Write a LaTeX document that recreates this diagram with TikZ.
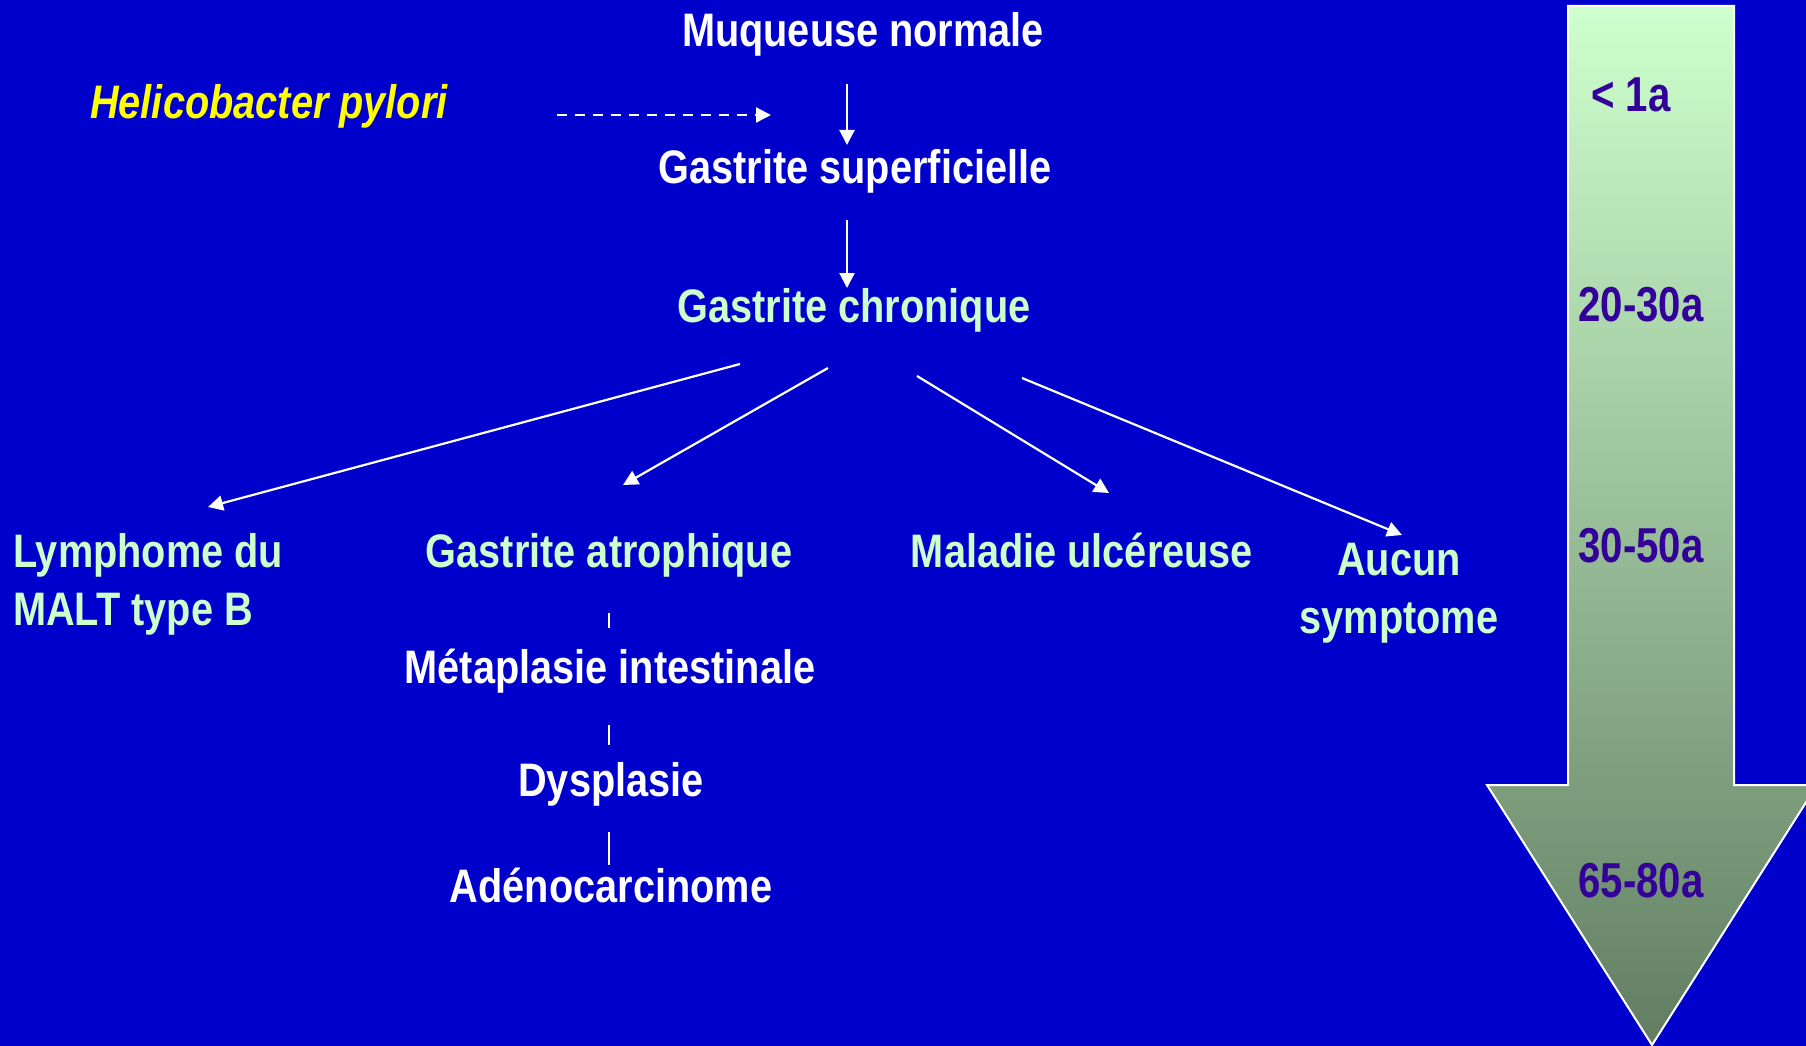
\documentclass[tikz,border=0pt]{standalone}
\usepackage{fontspec}
\setmainfont{Liberation Sans}[FakeStretch=0.845]
\newfontfamily\agefont{Liberation Sans}[FakeStretch=0.82]
\usetikzlibrary{arrows.meta}
\definecolor{bg}{RGB}{0,0,204}
\definecolor{lg}{RGB}{204,255,204}
\definecolor{agecol}{RGB}{51,0,153}
\definecolor{hpcol}{RGB}{255,255,0}
\definecolor{arrtop}{RGB}{206,255,206}
\definecolor{arrbot}{RGB}{98,125,98}
\begin{document}
\begin{tikzpicture}[x=1pt,y=-1pt,
  lbl/.style={inner sep=0pt, anchor=base, font=\fontsize{47}{58}\selectfont\bfseries},
  wtxt/.style={lbl, text=white},
  gtxt/.style={lbl, text=lg},
  agetxt/.style={inner sep=0pt, anchor=base, text=agecol, font=\agefont\fontsize{49}{58}\selectfont\bfseries},
  conn/.style={draw=white, line width=2.2pt, -{Triangle[length=15pt,width=15pt]}},
  dconn/.style={conn, dash pattern=on 10pt off 8pt},
  tick/.style={draw=white, line width=2pt}
]
\fill[bg] (0,0) rectangle (1806,1046);
\useasboundingbox (0,0) rectangle (1806,1046);

% big time arrow
\begin{scope}
\clip (0,0) rectangle (1806,1046);
\path[top color=arrtop, bottom color=arrbot, draw=white, line width=2pt, line join=miter]
  (1568,6) -- (1734,6) -- (1734,785) -- (1817,785) -- (1652,1045) -- (1487,785) -- (1568,785) -- cycle;
\end{scope}

\node[agetxt] (a1) at (1631,112) {< 1a};
\node[agetxt] (a2) at (1641,321) {20-30a};
\node[agetxt] (a3) at (1641,562) {30-50a};
\node[agetxt] (a4) at (1641,897) {65-80a};

% texts
\node[wtxt] (muq) at (863,47) {Muqueuse normale};
\node[lbl, anchor=base west, text=hpcol, font=\fontsize{47}{58}\selectfont\bfseries\itshape] (hp) at (90,119) {Helicobacter pylori};
\node[wtxt] (gs) at (855,183) {Gastrite superficielle};
\node[gtxt] (gc) at (854,322) {Gastrite chronique};
\node[gtxt, anchor=base west, align=left] (lym) at (13,625) {Lymphome du\\MALT type B};
\node[gtxt] (atro) at (609,567) {Gastrite atrophique};
\node[gtxt] (mal) at (1082,567) {Maladie ulcéreuse};
\node[gtxt, align=center] (auc) at (1399,633) {Aucun\\symptome};
\node[wtxt] (meta) at (610,683) {Métaplasie intestinale};
\node[wtxt] (dys) at (611,796) {Dysplasie};
\node[wtxt] (adeno) at (611,902) {Adénocarcinome};

% connector end points
\coordinate (muq-o) at (847,84);
\coordinate (gs-i) at (847,145);
\coordinate (gs-o) at (847,220);
\coordinate (gc-i) at (847,288);
\coordinate (hp-o) at (557,115);
\coordinate (hp-i) at (771,115);
\coordinate (gc-o1) at (740,364);
\coordinate (lym-i) at (208,507);
\coordinate (gc-o2) at (828,368);
\coordinate (atro-i) at (623,485);
\coordinate (gc-o3) at (917,376);
\coordinate (mal-i) at (1109,493);
\coordinate (gc-o4) at (1022,378);
\coordinate (auc-i) at (1402,535);
\coordinate (t1a) at (609,613); \coordinate (t1b) at (609,628);
\coordinate (t2a) at (609,725); \coordinate (t2b) at (609,745);
\coordinate (t3a) at (609,832); \coordinate (t3b) at (609,865);

\draw[conn] (muq-o) -- (gs-i);
\draw[conn] (gs-o) -- (gc-i);
\draw[dconn] (hp-o) -- (hp-i);
\draw[conn] (gc-o1) -- (lym-i);
\draw[conn] (gc-o2) -- (atro-i);
\draw[conn] (gc-o3) -- (mal-i);
\draw[conn] (gc-o4) -- (auc-i);
\draw[tick] (t1a) -- (t1b);
\draw[tick] (t2a) -- (t2b);
\draw[tick] (t3a) -- (t3b);
\end{tikzpicture}
\end{document}
